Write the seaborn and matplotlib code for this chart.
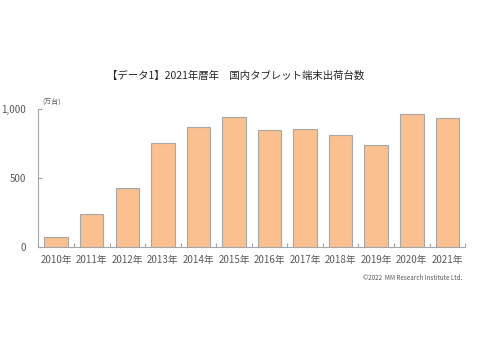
import numpy as np
import pandas as pd
import matplotlib
matplotlib.use("Agg")
import matplotlib.pyplot as plt
import seaborn as sns

sns.set_theme(style="white")
plt.rcParams['font.family'] = ['Noto Sans CJK JP', 'DejaVu Sans']

years = ["2010年", "2011年", "2012年", "2013年", "2014年", "2015年",
         "2016年", "2017年", "2018年", "2019年", "2020年", "2021年"]
shipments = [75, 242, 430, 751, 867, 942, 848, 858, 812, 739, 962, 938]

df = pd.DataFrame({"year": years, "units": shipments})

grey = "#595959"
fig = plt.figure(figsize=(4.8, 3.6), dpi=100)
ax = fig.add_axes([0.080, 0.314, 0.889, 0.383])

sns.barplot(data=df, x="year", y="units", color="#FAC090", saturation=1,
            width=0.66, edgecolor="#A6A6A6", linewidth=0.8, ax=ax)

ax.set_ylim(0, 1000)
ax.set_xlim(-0.5, len(years) - 0.5)
ax.set_yticks([0, 500, 1000])
ax.set_yticklabels(["0", "500", "1,000"])
ax.set_xlabel("")
ax.set_ylabel("")

# ticks between categories on the x axis, pointing inward
ax.set_xticks(np.arange(len(years)))
ax.set_xticklabels(years)
ax.set_xticks(np.arange(len(years) + 1) - 0.5, minor=True)
ax.tick_params(axis="x", which="major", bottom=False, length=0, labelsize=7,
               colors=grey, pad=6)
ax.tick_params(axis="x", which="minor", bottom=True, length=3, width=0.8,
               color="#A6A6A6", direction="in")
ax.tick_params(axis="y", left=True, length=3, width=0.8, color="#A6A6A6", direction="in",
               labelsize=7, labelcolor=grey, pad=9)

for side in ["top", "right"]:
    ax.spines[side].set_visible(False)
for side in ["left", "bottom"]:
    ax.spines[side].set_color("#A6A6A6")
    ax.spines[side].set_linewidth(0.8)

fig.text(0.49, 0.79, "【データ1】2021年暦年　国内タブレット端末出荷台数",
         ha="center", va="center", fontsize=7.5, color="#262626")
fig.text(0.088, 0.715, "(万台)", ha="left", va="center", fontsize=5, color=grey)
fig.text(0.963, 0.228, "©2022  MM Research Institute Ltd.", ha="right", va="center",
         fontsize=4.5, color=grey)

fig.savefig("out.png", dpi=100)
